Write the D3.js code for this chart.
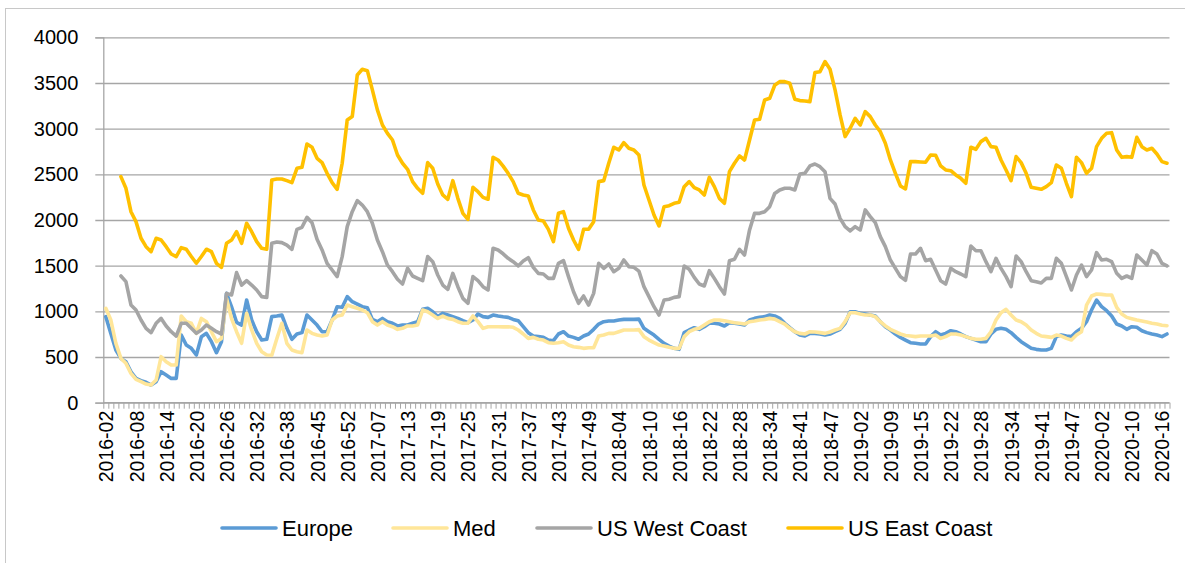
<!DOCTYPE html>
<html>
<head>
<meta charset="utf-8">
<script src="https://cdn.jsdelivr.net/npm/d3@7"></script>
<style>
  html, body { margin: 0; padding: 0; background: #fff; }
  svg { display: block; font-family: "Liberation Sans", Arial, sans-serif; }
</style>
</head>
<body>
<svg id="chart" width="1185" height="563"></svg>
<script>
// weekly freight rates, one value per category (212 weeks, 2016-02 .. 2020-17)
const tickLabels = [
  '2016-02', '2016-08', '2016-14', '2016-20', '2016-26', '2016-32', '2016-38', '2016-45', '2016-52',
  '2017-07', '2017-13', '2017-19', '2017-25', '2017-31', '2017-37', '2017-43', '2017-49',
  '2018-04', '2018-10', '2018-16', '2018-22', '2018-28', '2018-34', '2018-41', '2018-47',
  '2019-02', '2019-09', '2019-15', '2019-22', '2019-28', '2019-34', '2019-41', '2019-47',
  '2020-02', '2020-10', '2020-16'
];
const labelEvery = 6;

const europe = [
  942, 759, 577, 485, 449, 339, 266, 241, 223, 193,
  230, 339, 303, 266, 266, 741, 631, 595, 522, 723,
  759, 668, 547, 668, 1197, 1050, 880, 850, 1124, 905,
  777, 686, 694, 942, 950, 960, 814, 694, 752, 767,
  960, 905, 850, 777, 777, 905, 1051, 1044, 1161, 1106,
  1080, 1051, 1040, 912, 887, 923, 887, 869, 840, 850,
  850, 869, 887, 1022, 1033, 996, 942, 978, 960, 942,
  923, 898, 876, 905, 971, 942, 934, 960, 949, 940,
  934, 912, 898, 832, 767, 730, 723, 715, 686, 679,
  752, 777, 730, 715, 694, 730, 752, 803, 861, 887,
  894, 894, 905, 912, 912, 912, 915, 814, 777, 741,
  694, 650, 620, 595, 584, 767, 796, 821, 803, 832,
  869, 869, 861, 840, 876, 869, 861, 850, 905, 923,
  934, 942, 960, 950, 923, 869, 821, 777, 741, 730,
  759, 759, 752, 741, 752, 777, 803, 869, 996, 996,
  978, 971, 960, 949, 887, 832, 796, 752, 715, 686,
  657, 650, 642, 642, 723, 777, 741, 759, 788, 777,
  752, 723, 704, 686, 668, 668, 752, 803, 814, 803,
  767, 715, 668, 631, 595, 584, 577, 577, 595, 723,
  741, 730, 723, 777, 814, 887, 1015, 1124, 1051, 1007,
  949, 861, 840, 803, 832, 825, 788, 767, 752, 741,
  723, 752
];

const med = [
  1033, 905, 650, 485, 431, 321, 255, 230, 204, 193,
  248, 504, 449, 412, 412, 949, 887, 869, 759, 923,
  887, 777, 668, 704, 1142, 920, 777, 650, 978, 796,
  650, 558, 522, 520, 700, 869, 650, 577, 558, 547,
  796, 759, 741, 730, 741, 905, 949, 960, 1069, 1051,
  1033, 1015, 985, 887, 850, 887, 850, 832, 803, 814,
  840, 840, 850, 1015, 996, 960, 923, 949, 923, 912,
  887, 869, 869, 949, 887, 814, 832, 832, 832, 830,
  832, 825, 796, 752, 704, 715, 694, 686, 657, 650,
  657, 668, 631, 613, 606, 595, 602, 602, 730, 741,
  759, 759, 777, 796, 796, 796, 800, 723, 686, 657,
  631, 620, 606, 595, 595, 723, 777, 803, 814, 850,
  887, 905, 905, 898, 887, 876, 869, 861, 887, 894,
  905, 912, 923, 915, 887, 861, 814, 777, 759, 752,
  777, 774, 767, 759, 774, 796, 814, 887, 985, 985,
  971, 960, 960, 942, 887, 840, 803, 777, 752, 735,
  730, 723, 730, 730, 730, 741, 704, 723, 752, 752,
  741, 723, 704, 694, 694, 704, 777, 905, 985, 1022,
  960, 905, 887, 850, 796, 759, 730, 723, 715, 741,
  730, 704, 686, 741, 777, 1069, 1168, 1190, 1186, 1179,
  1179, 1044, 971, 934, 920, 905, 894, 883, 869, 861,
  847, 843
];

const usWest = [
  null, null, null, 1387, 1325, 1070, 1015, 905, 814, 767,
  869, 923, 840, 777, 730, 869, 869, 814, 760, 796,
  850, 814, 777, 752, 1197, 1179, 1424, 1288, 1336, 1288,
  1234, 1161, 1153, 1745, 1759, 1752, 1726, 1679, 1898, 1920,
  2029, 1971, 1789, 1672, 1526, 1453, 1380, 1599, 1927, 2091,
  2212, 2164, 2091, 1964, 1781, 1653, 1507, 1434, 1351, 1299,
  1471, 1387, 1361, 1336, 1599, 1544, 1398, 1288, 1241, 1416,
  1270, 1142, 1088, 1380, 1336, 1270, 1234, 1690, 1672, 1630,
  1580, 1544, 1497, 1551, 1588, 1482, 1416, 1409, 1361, 1361,
  1526, 1555, 1380, 1215, 1088, 1168, 1069, 1197, 1526, 1471,
  1518, 1434, 1471, 1562, 1489, 1482, 1440, 1270, 1161, 1051,
  960, 1124, 1132, 1153, 1161, 1497, 1460, 1372, 1299, 1278,
  1445, 1361, 1270, 1190, 1555, 1570, 1679, 1617, 1891, 2073,
  2073, 2091, 2146, 2290, 2329, 2347, 2347, 2329, 2504, 2511,
  2592, 2613, 2584, 2529, 2237, 2175, 2018, 1927, 1880, 1927,
  1891, 2110, 2037, 1971, 1818, 1708, 1562, 1471, 1380, 1340,
  1628, 1628, 1690, 1555, 1570, 1453, 1336, 1299, 1471, 1434,
  1409, 1380, 1716, 1664, 1664, 1544, 1434, 1580, 1471, 1380,
  1270, 1606, 1544, 1434, 1336, 1325, 1310, 1361, 1361, 1580,
  1526, 1380, 1234, 1398, 1507, 1380, 1453, 1643, 1562, 1570,
  1544, 1416, 1361, 1387, 1361, 1617, 1562, 1507, 1664, 1628,
  1526, 1497
];

const usEast = [
  null, null, null, 2475, 2347, 2091, 1982, 1800, 1708, 1653,
  1800, 1781, 1708, 1628, 1600, 1697, 1680, 1600, 1526, 1600,
  1680, 1653, 1526, 1482, 1745, 1780, 1872, 1745, 1964, 1872,
  1763, 1690, 1680, 2438, 2449, 2449, 2431, 2409, 2566, 2577,
  2832, 2796, 2675, 2628, 2511, 2409, 2336, 2621, 3095, 3132,
  3588, 3650, 3635, 3424, 3205, 3040, 2949, 2876, 2712, 2621,
  2555, 2420, 2347, 2292, 2628, 2566, 2394, 2274, 2227, 2431,
  2237, 2073, 2007, 2358, 2310, 2248, 2227, 2686, 2657, 2590,
  2511, 2420, 2292, 2274, 2263, 2110, 2000, 1989, 1898, 1763,
  2073, 2091, 1909, 1781, 1679, 1898, 1898, 1982, 2420, 2431,
  2621, 2796, 2767, 2847, 2785, 2767, 2712, 2383, 2219, 2055,
  1935, 2146, 2157, 2183, 2194, 2365, 2420, 2354, 2329, 2274,
  2467, 2365, 2237, 2183, 2529, 2621, 2701, 2657, 2876, 3095,
  3103, 3314, 3332, 3475, 3515, 3515, 3497, 3322, 3307, 3303,
  3296, 3614, 3624, 3734, 3650, 3424, 3150, 2913, 3004, 3113,
  3040, 3186, 3132, 3040, 2967, 2840, 2657, 2511, 2373, 2340,
  2639, 2639, 2635, 2632, 2712, 2708, 2592, 2548, 2540, 2493,
  2456, 2402, 2796, 2774, 2858, 2894, 2803, 2796, 2657, 2548,
  2431, 2694, 2628, 2511, 2358, 2347, 2336, 2365, 2409, 2602,
  2566, 2402, 2256, 2686, 2628, 2511, 2566, 2803, 2894, 2949,
  2956, 2767, 2686, 2694, 2686, 2905, 2803, 2767, 2785, 2723,
  2639, 2621
];

const seriesNames = ['Europe', 'Med', 'US West Coast', 'US East Coast'];
const seriesColors = ['#5b9bd5', '#ffe699', '#a5a5a5', '#ffc000'];
const yTicks = [0, 500, 1000, 1500, 2000, 2500, 3000, 3500, 4000];

const series = [europe, med, usWest, usEast];
const N = europe.length;

const svg = d3.select('#chart');
const plot = { left: 103.3, right: 1169.5, top: 37.3, bottom: 402.7 };

// outer chart frame
svg.append('rect')
  .attr('x', 5.5).attr('y', 8.5)
  .attr('width', 1200).attr('height', 600)
  .attr('fill', 'none').attr('stroke', '#c8c8c8');

const x = d3.scaleLinear().domain([0, N]).range([plot.left, plot.right]);
const y = d3.scaleLinear().domain([0, 4000]).range([plot.bottom, plot.top]);

// gridlines + y axis
const gy = svg.append('g').attr('transform', `translate(${plot.left},0)`)
  .call(d3.axisLeft(y).tickValues(yTicks).tickSize(8).tickPadding(17).tickFormat(d3.format('d')));
gy.select('.domain').attr('stroke', '#a6a6a6').attr('stroke-width', 1.3);
gy.selectAll('.tick line').attr('stroke', '#a6a6a6').attr('stroke-width', 1.3)
  .attr('x2', plot.right - plot.left).attr('x1', -8);
gy.selectAll('.tick text').attr('font-size', 20).attr('fill', '#000');

// x axis: tick at every category boundary
const gx = svg.append('g').attr('transform', `translate(0,${plot.bottom})`)
  .call(d3.axisBottom(x).tickValues(d3.range(0, N + 1)).tickSize(6).tickFormat(''));
gx.select('.domain').remove();
gx.selectAll('.tick line').attr('stroke', '#a6a6a6').attr('stroke-width', 1);
svg.append('line')
  .attr('x1', plot.left).attr('x2', plot.right)
  .attr('y1', plot.bottom).attr('y2', plot.bottom)
  .attr('stroke', '#a6a6a6').attr('stroke-width', 1.3);

// category labels every 6th week
const labelIdx = tickLabels.map((d, i) => i * labelEvery);
const gl = svg.append('g').attr('transform', `translate(0,${plot.bottom})`)
  .call(d3.axisBottom(x).tickValues(labelIdx.map((i) => i + 0.5))
    .tickSize(0).tickFormat((d, i) => tickLabels[i]));
gl.select('.domain').remove();
gl.selectAll('.tick text')
  .attr('font-size', 19.5).attr('fill', '#000')
  .attr('text-anchor', 'end')
  .attr('transform', 'rotate(-90)')
  .attr('x', -8).attr('y', 0).attr('dy', '0.36em');

// lines
const line = d3.line()
  .defined((d) => d != null)
  .x((d, i) => x(i + 0.5))
  .y((d) => y(d));

series.forEach((s, k) => {
  svg.append('path')
    .datum(s)
    .attr('fill', 'none')
    .attr('stroke', seriesColors[k])
    .attr('stroke-width', 3.6)
    .attr('stroke-linejoin', 'round')
    .attr('stroke-linecap', 'round')
    .attr('d', line);
});

// legend
const legendX = [222, 393, 537, 788];
const lg = svg.append('g').attr('transform', 'translate(0,528)');
seriesNames.forEach((name, k) => {
  lg.append('line')
    .attr('x1', legendX[k]).attr('x2', legendX[k] + 54)
    .attr('y1', 0).attr('y2', 0)
    .attr('stroke', seriesColors[k]).attr('stroke-width', 3.6)
    .attr('stroke-linecap', 'round');
  lg.append('text')
    .attr('x', legendX[k] + 60).attr('y', 0).attr('dy', '0.36em')
    .attr('font-size', 22).attr('fill', '#000')
    .text(name);
});
</script>
</body>
</html>
